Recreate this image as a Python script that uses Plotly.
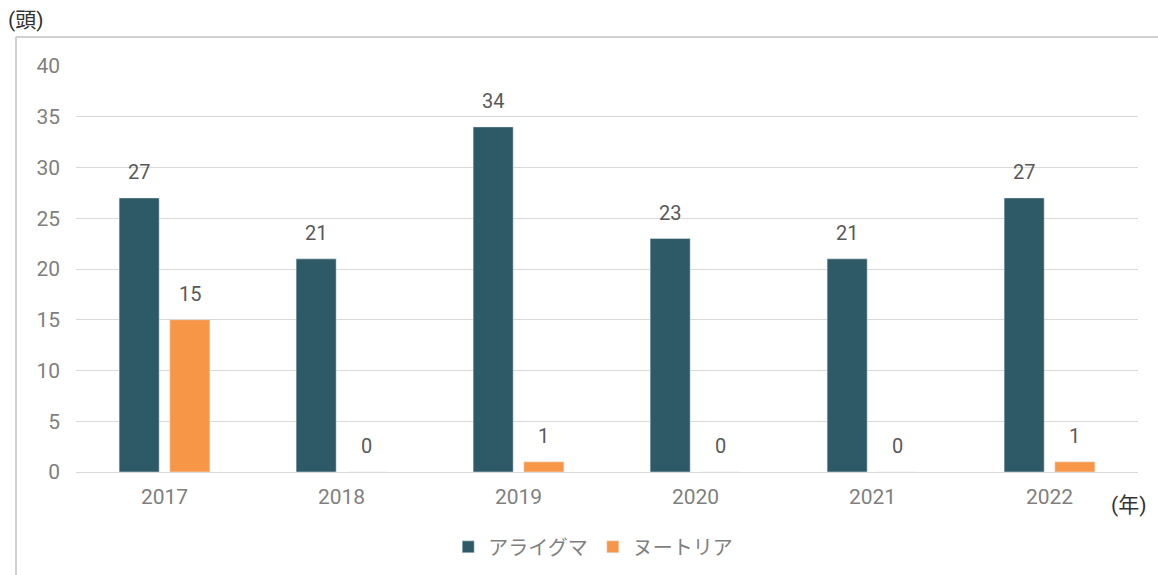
import plotly.graph_objects as go

years = ["2017", "2018", "2019", "2020", "2021", "2022"]
raccoon = [27, 21, 34, 23, 21, 27]
nutria = [15, 0, 1, 0, 0, 1]
series_names = ["アライグマ", "ヌートリア"]
colors = ["#2E5966", "#F79646"]

FONT = "Roboto, 'Noto Sans CJK JP', sans-serif"
JFONT = "'Noto Sans CJK JP', sans-serif"

fig = go.Figure()
fig.add_trace(go.Bar(x=years, y=raccoon, name=series_names[0], marker_color=colors[0]))
fig.add_trace(go.Bar(x=years, y=nutria, name=series_names[1], marker_color=colors[1]))

annotations = []
for vals, shift in ((raccoon, -25.4), (nutria, 25.4)):
    for i, v in enumerate(vals):
        annotations.append(dict(x=i, y=v, text=str(v), showarrow=False, xshift=shift,
                                yshift=26, yanchor="middle",
                                font=dict(family=FONT, size=20, color="#595959")))

annotations.append(dict(xref="paper", yref="paper", x=-0.066, y=1.113, xanchor="left",
                        yanchor="middle", text="(頭)", showarrow=False,
                        font=dict(family=FONT, size=21, color="#333333")))
annotations.append(dict(xref="paper", yref="paper", x=0.9915, y=-0.081, xanchor="center",
                        yanchor="middle", text="(年)", showarrow=False,
                        font=dict(family=FONT, size=21, color="#333333")))

shapes = [
    dict(type="line", xref="paper", yref="paper", x0=-0.0565, x1=-0.0565, y0=-0.3, y1=1.0714,
         line=dict(color="#D0D0D0", width=2)),
    dict(type="line", xref="paper", yref="paper", x0=-0.0565, x1=1.05, y0=1.0714, y1=1.0714,
         line=dict(color="#D0D0D0", width=2)),
]

fig.update_layout(
    width=1158, height=575,
    margin=dict(l=76, r=20, t=66, b=103),
    paper_bgcolor="white", plot_bgcolor="white",
    barmode="group", bargap=0.427, bargroupgap=0.21,
    annotations=annotations, shapes=shapes,
    legend=dict(orientation="h", x=0.487, xanchor="center", yref="container", y=0.049,
                yanchor="middle",
                font=dict(family=JFONT, size=20, color="#7F7F7F"),
                itemwidth=30, traceorder="normal"),
    font=dict(family=FONT),
)
fig.update_yaxes(range=[0, 40], dtick=5, showgrid=True, gridcolor="#D9D9D9", gridwidth=1,
                 zeroline=True, zerolinecolor="#D9D9D9", zerolinewidth=1, showline=False,
                 tickfont=dict(family=FONT, size=21, color="#7F7F7F"), ticks="",
                 ticklabelstandoff=15)
fig.update_xaxes(type="category", showgrid=False, showline=False, ticks="",
                 tickfont=dict(family=FONT, size=21, color="#7F7F7F"), ticklabelstandoff=10)

fig.write_html("out.html", config={"displayModeBar": False},
               post_script="document.body.style.margin='0';")
